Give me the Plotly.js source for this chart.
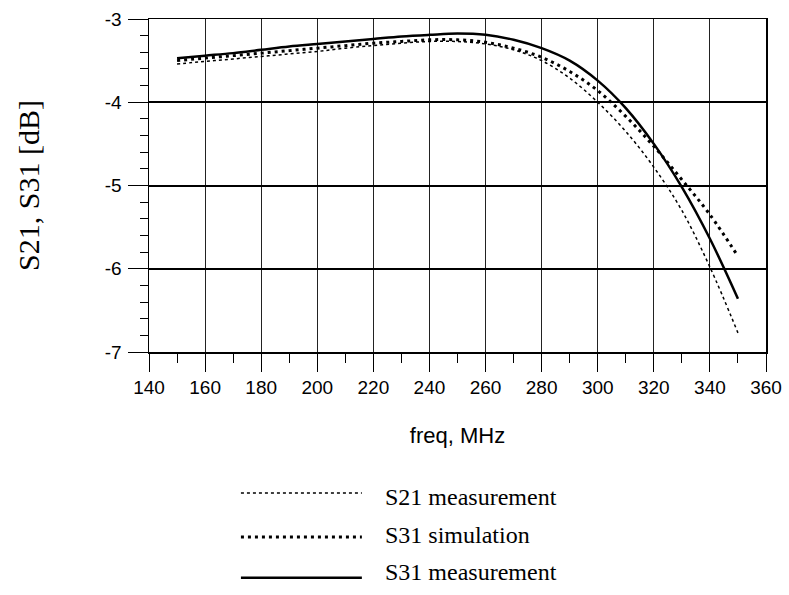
<!DOCTYPE html>
<html>
<head>
<meta charset="utf-8">
<script src="https://cdn.plot.ly/plotly-3.0.1.min.js"></script>
<style>html,body{margin:0;padding:0;background:#fff;}#chart{width:789px;height:595px;}</style>
</head>
<body>
<div id="chart"></div>
<script>
// frequency in MHz
const freq = [150,160,170,180,190,200,210,220,230,240,250,260,270,280,290,300,310,320,330,340,350];
// S21 measurement [dB]
const s21Meas = [-3.54,-3.51,-3.48,-3.45,-3.42,-3.39,-3.35,-3.32,-3.29,-3.27,-3.27,-3.30,-3.37,-3.50,-3.71,-4.00,-4.35,-4.78,-5.30,-5.98,-6.77];
// S31 simulation [dB]
const s31Sim = [-3.50,-3.47,-3.44,-3.41,-3.38,-3.35,-3.32,-3.29,-3.27,-3.25,-3.25,-3.28,-3.35,-3.46,-3.63,-3.86,-4.17,-4.53,-4.93,-5.35,-5.85];
// S31 measurement [dB]
const s31Meas = [-3.47,-3.44,-3.41,-3.37,-3.33,-3.30,-3.27,-3.24,-3.21,-3.19,-3.175,-3.19,-3.25,-3.35,-3.50,-3.74,-4.07,-4.50,-5.02,-5.64,-6.36];

const seriesNames = ['S21 measurement','S31 simulation','S31 measurement'];
const xTicks = [140,160,180,200,220,240,260,280,300,320,340,360];
const yTicks = [-7,-6,-5,-4,-3];

const styles = [
  {color:'#000', width:1.5, dash:'dot'},
  {color:'#000', width:3, dash:'3px,4px'},
  {color:'#000', width:2.5, dash:'solid'}
];
const data = [s21Meas, s31Sim, s31Meas].map((ys,i)=>({
  x: freq, y: ys, type:'scatter', mode:'lines', name: seriesNames[i],
  line: Object.assign({shape:'spline', smoothing:1}, styles[i]),
  showlegend:false, hoverinfo:'skip'
}));

// custom legend below the chart
const legX0 = 0.149, legX1 = 0.345, legTextX = 0.379;
const legLineY = [-0.4234, -0.5555, -0.6777];
const legTextY = [-0.436, -0.550, -0.660];
const shapes = styles.map((s,i)=>({
  type:'line', xref:'paper', yref:'paper', x0:legX0, x1:legX1, y0:legLineY[i], y1:legLineY[i],
  line:{color:s.color, width:s.width, dash:s.dash}
}));
const annotations = seriesNames.map((n,i)=>({
  xref:'paper', yref:'paper', x:legTextX, y:legTextY[i], xanchor:'left', yanchor:'middle',
  text:n, showarrow:false, font:{family:'Liberation Serif, Times New Roman, serif', size:24, color:'#000'}
}));

const layout = {
  width:789, height:595,
  margin:{l:149, r:23, t:19, b:243},
  paper_bgcolor:'#fff', plot_bgcolor:'#fff',
  showlegend:false,
  font:{family:'Liberation Sans, Arial, sans-serif', color:'#000'},
  xaxis:{
    range:[140,360], tickmode:'array', tickvals:xTicks, ticktext:xTicks.map(String),
    ticks:'outside', ticklen:18, tickwidth:1, tickcolor:'#000',
    minor:{dtick:10, tick0:140, ticks:'outside', ticklen:9, tickcolor:'#000', tickwidth:1, showgrid:false},
    showgrid:true, gridcolor:'#222', gridwidth:1,
    showline:true, linecolor:'#000', linewidth:1.5, mirror:true,
    zeroline:false, tickfont:{size:19}, ticklabelstandoff:0,
    title:{text:'freq, MHz', font:{size:22}, standoff:30}
  },
  yaxis:{
    range:[-7,-3], tickmode:'array', tickvals:yTicks, ticktext:yTicks.map(String),
    ticks:'outside', ticklen:20, tickwidth:1, tickcolor:'#000',
    minor:{dtick:0.2, tick0:-7, ticks:'outside', ticklen:8, tickcolor:'#000', tickwidth:1, showgrid:false},
    showgrid:true, gridcolor:'#000', gridwidth:2,
    showline:true, linecolor:'#000', linewidth:1.5, mirror:true,
    zeroline:false, tickfont:{size:19}, ticklabelstandoff:2,
    title:{text:'S21, S31 [dB]', font:{family:'Liberation Serif, Times New Roman, serif', size:30}, standoff:56}
  },
  shapes: shapes,
  annotations: annotations
};

Plotly.newPlot('chart', data, layout, {staticPlot:true, displayModeBar:false});
</script>
</body>
</html>
